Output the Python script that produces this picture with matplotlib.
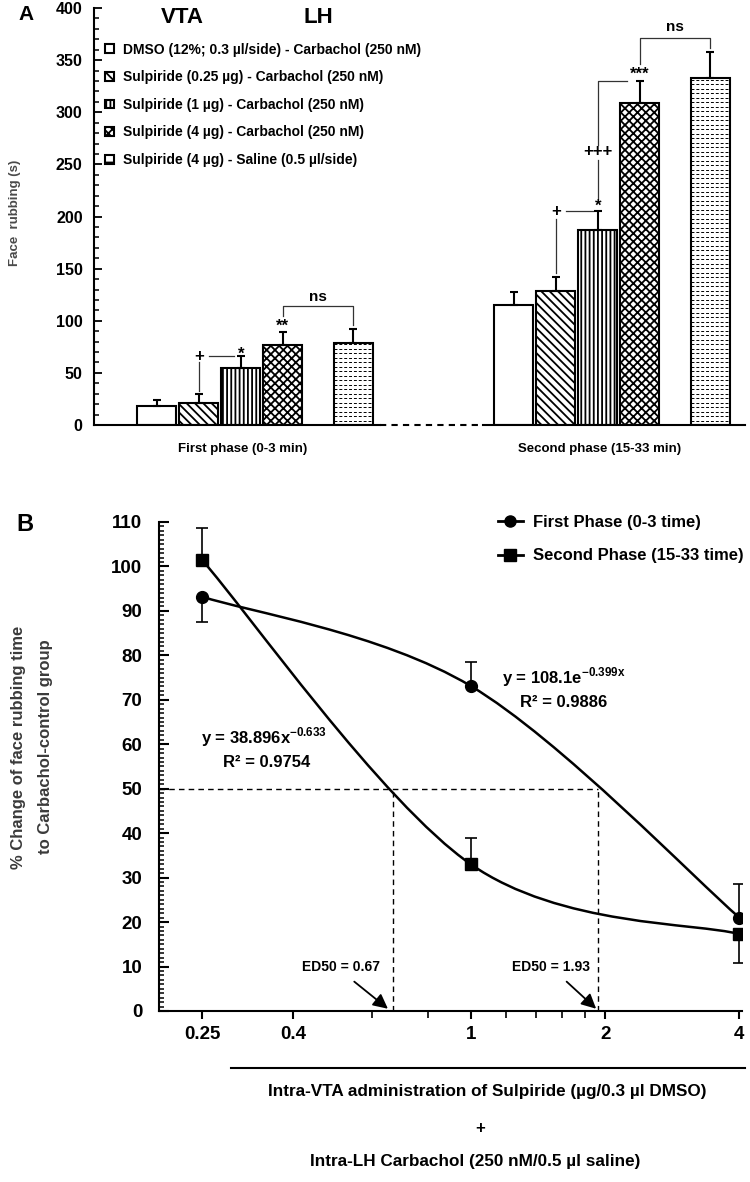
import numpy as np
import matplotlib
matplotlib.use("Agg")
import matplotlib.pyplot as plt
from matplotlib.path import Path
from matplotlib.patches import PathPatch, Patch
from matplotlib.lines import Line2D
from matplotlib.ticker import MultipleLocator, NullFormatter

plt.rcParams['font.family'] = ['Liberation Sans', 'DejaVu Sans']
plt.rcParams['font.weight'] = 'bold'
plt.rcParams['mathtext.fontset'] = 'custom'
plt.rcParams['mathtext.rm'] = 'Liberation Sans'
plt.rcParams['mathtext.bf'] = 'Liberation Sans:bold'
plt.rcParams['hatch.linewidth'] = 1.3

# ---------------- data, panel A ----------------
treatments = ['DMSO (12%; 0.3 µl/side) - Carbachol (250 nM)',
              'Sulpiride (0.25 µg) - Carbachol (250 nM)',
              'Sulpiride (1 µg) - Carbachol (250 nM)',
              'Sulpiride (4 µg) - Carbachol (250 nM)',
              'Sulpiride (4 µg) - Saline (0.5 µl/side)']
phases = ['First phase (0-3 min)', 'Second phase (15-33 min)']
first_mean = [18, 21, 55, 77, 79]
first_sem = [6, 9, 11, 12, 13]
second_mean = [115, 129, 187, 309, 333]
second_sem = [13, 13, 18, 21, 25]

# ---------------- data, panel B ----------------
doses = [0.25, 1, 4]
dose_labels = ['0.25', '0.4', '1', '2', '4']
dose_ticks = [0.25, 0.4, 1, 2, 4]
first_pct = [93.2, 73.1, 21.0]
first_lo = [5.8, 0, 0]
first_hi = [0, 5.5, 7.6]
second_pct = [101.4, 33.0, 17.3]
second_lo = [0, 0, 6.6]
second_hi = [7.2, 6.0, 0]
ed50_first = 1.93
ed50_second = 0.67

fig = plt.figure(figsize=(7.5, 11.82), dpi=100)

# =============== PANEL A ===============
axA = fig.add_axes([0.125, 0.6404, 0.868, 0.3528])
slot = np.array([0, 1, 2, 3, 4.68])   # bar slots inside one phase group
group_x = [0, 8.5]
hatches = ['', '\\\\\\\\', '||||', 'xxxx', '']
bars = []
for i in range(5):
    xs = [g + slot[i] for g in group_x]
    b = axA.bar(xs, [first_mean[i], second_mean[i]], width=0.93, color='white',
                edgecolor='black', linewidth=1.5, hatch=hatches[i],
                yerr=[[0, 0], [first_sem[i], second_sem[i]]], capsize=3,
                error_kw=dict(elinewidth=1.5, capthick=1.5, ecolor='black'), zorder=2)
    bars.append(b)

# dashed horizontal fill of the saline bars
for rect in bars[4]:
    ys = np.arange(4.3, rect.get_height(), 4.3)
    lc = axA.hlines(ys, rect.get_x(), rect.get_x() + rect.get_width(), colors='black',
                    linestyles=(0, (3, 2)), linewidth=0.7, zorder=2.5)
    lc.set_clip_path(rect)

axA.set_xlim(-1.5, 14.0)
axA.set_ylim(0, 400)
# baseline: solid - dashed - solid
axA.plot([-1.5, 5.31], [0, 0], color='black', lw=1.5, clip_on=False, zorder=3)
axA.plot([5.31, 7.76], [0, 0], color='black', lw=1.5, ls=(0, (3, 2.5)), clip_on=False, zorder=3)
axA.plot([7.76, 14.0], [0, 0], color='black', lw=1.5, clip_on=False, zorder=3)

for s in ['top', 'right', 'bottom']:
    axA.spines[s].set_visible(False)
axA.spines['left'].set_linewidth(1.5)
axA.set_yticks(range(0, 401, 50))
axA.yaxis.set_minor_locator(MultipleLocator(10))
axA.tick_params(axis='y', which='major', direction='in', length=6, width=1.3, labelsize=11.5, pad=8)
axA.tick_params(axis='y', which='minor', direction='in', length=3.5, width=1.1)
axA.set_xticks([2.05, 10.55], phases)
axA.tick_params(axis='x', length=0, labelsize=9.5, pad=13)
axA.set_ylabel('Face  rubbing (s)', fontsize=9.5, fontweight='bold', color='#4a4a4a', va='center')
axA.yaxis.set_label_coords(-0.121, 0.508)

# significance marks, first phase
ann = dict(color='#333333', lw=0.9)
axA.plot([1, 1], [33, 60], **ann)
axA.text(1, 66, '+', ha='center', va='center', fontsize=12)
axA.plot([1.24, 1.85], [66, 66], **ann)
axA.text(2, 68, '*', ha='center', va='center', fontsize=12)
axA.text(3, 95, '**', ha='center', va='center', fontsize=12)
axA.plot([3, 3, 4.68, 4.68], [105, 114, 114, 96], **ann)
axA.text(3.84, 123, 'ns', ha='center', va='center', fontsize=11)
# significance marks, second phase
axA.plot([9.5, 9.5], [146, 198], **ann)
axA.text(9.5, 205, '+', ha='center', va='center', fontsize=12)
axA.plot([9.74, 10.38], [205, 205], **ann)
axA.text(10.5, 210, '*', ha='center', va='center', fontsize=12)
axA.plot([10.5, 10.5], [218, 254], **ann)
axA.text(10.5, 262, '+++', ha='center', va='center', fontsize=12)
axA.plot([10.5, 10.5, 11.2], [269, 330, 330], **ann)
axA.text(11.5, 336, '***', ha='center', va='center', fontsize=12)
axA.plot([11.5, 11.5, 13.18, 13.18], [346, 371, 371, 362], **ann)
axA.text(12.34, 382, 'ns', ha='center', va='center', fontsize=11)

handles = [bars[0], bars[1], bars[2], bars[3],
           Patch(facecolor='white', edgecolor='black', hatch='--', linewidth=1.5)]
axA.legend(handles, treatments, loc='upper left', bbox_to_anchor=(0.018, 0.917),
           frameon=False, fontsize=10, handlelength=0.6, handleheight=0.6,
           handletextpad=0.65, labelspacing=0.98, borderpad=0, borderaxespad=0)
fig.text(0.243, 0.9855, 'VTA', ha='center', va='center', fontsize=16)
fig.text(0.425, 0.9855, 'LH', ha='center', va='center', fontsize=16)
fig.text(0.035, 0.988, 'A', ha='center', va='center', fontsize=15)

# =============== PANEL B ===============
axB = fig.add_axes([0.212, 0.1447, 0.777, 0.4137])
axB.set_xscale('log')
axB.set_xlim(0.2, 4.05)
axB.set_ylim(0, 110)


def smooth_curve(xs, ys):
    # Catmull-Rom style bezier through the points (log-x space), like a spreadsheet "smoothed line"
    p = np.column_stack([np.log10(xs), ys])
    n = len(p)
    verts = [p[0]]
    codes = [Path.MOVETO]
    for i in range(n - 1):
        prev = p[max(i - 1, 0)]
        nxt = p[min(i + 2, n - 1)]
        c1 = p[i] + (p[i + 1] - prev) / 6
        c2 = p[i + 1] - (nxt - p[i]) / 6
        verts += [c1, c2, p[i + 1]]
        codes += [Path.CURVE4] * 3
    verts = np.array(verts)
    verts[:, 0] = 10 ** verts[:, 0]
    return Path(verts, codes)


axB.add_patch(PathPatch(smooth_curve(doses, first_pct), facecolor='none', edgecolor='black', lw=1.8, zorder=3))
axB.add_patch(PathPatch(smooth_curve(doses, second_pct), facecolor='none', edgecolor='black', lw=1.8, zorder=3))
axB.errorbar(doses, first_pct, yerr=[first_lo, first_hi], fmt='o', color='black', ms=8.5,
             capsize=4, elinewidth=1.2, capthick=1.2, zorder=4)
axB.errorbar(doses, second_pct, yerr=[second_lo, second_hi], fmt='s', color='black', ms=8,
             capsize=4, elinewidth=1.2, capthick=1.2, zorder=4)

# ED50 guides
dash = (0, (4, 3))
axB.plot([axB.get_xlim()[0], ed50_first], [50, 50], color='black', lw=1.0, ls=dash)
axB.plot([ed50_second, ed50_second], [0, 50], color='black', lw=1.0, ls=dash)
axB.plot([ed50_first, ed50_first], [0, 50], color='black', lw=1.0, ls=dash)
axB.text(0.512, 9.9, 'ED50 = %.2f' % ed50_second, ha='center', va='center', fontsize=10)
axB.text(1.515, 9.9, 'ED50 = %.2f' % ed50_first, ha='center', va='center', fontsize=10)
arrow = dict(arrowstyle='-|>', color='black', lw=1.3, mutation_scale=22, shrinkA=0, shrinkB=0)
axB.annotate('', xy=(0.652, 0.5), xytext=(0.548, 6.6), arrowprops=arrow)
axB.annotate('', xy=(1.91, 0.5), xytext=(1.64, 6.6), arrowprops=arrow)

# fit equations
axB.text(1.172, 75.1, r'y = 108.1e$^{\mathrm{-0.399x}}$', ha='left', va='center', fontsize=12)
axB.text(1.616, 69.3, 'R² = 0.9886', ha='center', va='center', fontsize=12)
axB.text(0.344, 61.6, r'y = 38.896x$^{\mathrm{-0.633}}$', ha='center', va='center', fontsize=12)
axB.text(0.348, 56.0, 'R² = 0.9754', ha='center', va='center', fontsize=12)

for s in ['top', 'right']:
    axB.spines[s].set_visible(False)
axB.spines['left'].set_linewidth(1.5)
axB.spines['bottom'].set_linewidth(1.5)
axB.set_xticks(dose_ticks, dose_labels)
axB.set_xticks([0.6, 0.8, 1.2, 1.4, 1.6, 1.8], minor=True)
axB.xaxis.set_minor_formatter(NullFormatter())
axB.yaxis.set_major_locator(MultipleLocator(10))
axB.yaxis.set_minor_locator(MultipleLocator(1))
axB.tick_params(axis='x', which='major', direction='out', length=6, width=1.5, labelsize=13.5, pad=5)
axB.tick_params(axis='x', which='minor', direction='out', length=5, width=1.2)
axB.tick_params(axis='y', which='major', direction='in', length=7, width=1.5, labelsize=13.5, pad=12)
axB.tick_params(axis='y', which='minor', direction='in', length=3.5, width=1.1)
axB.set_ylabel('% Change of face rubbing time\nto Carbachol-control group', fontsize=12,
               fontweight='bold', color='#3a3a3a', linespacing=1.95, va='center')
axB.yaxis.set_label_coords(-0.218, 0.54)

legB = [Line2D([0], [0], color='black', lw=2, marker='o', ms=8),
        Line2D([0], [0], color='black', lw=2, marker='s', ms=8)]
axB.legend(legB, ['First Phase (0-3 time)', 'Second Phase (15-33 time)'], loc='upper left',
           bbox_to_anchor=(0.581, 1.014), frameon=False, fontsize=12, handlelength=1.5,
           handletextpad=0.6, labelspacing=1.1, borderpad=0, borderaxespad=0)

# x-axis caption block
axB.plot([0.1235, 1.005], [-0.1166, -0.1166], transform=axB.transAxes, clip_on=False, color='black', lw=1.5)
axB.text(0.5626, -0.1656, 'Intra-VTA administration of Sulpiride (µg/0.3 µl DMSO)', transform=axB.transAxes,
         ha='center', va='center', fontsize=12.3)
axB.text(0.5506, -0.2413, '+', transform=axB.transAxes, ha='center', va='center', fontsize=12)
axB.text(0.542, -0.3088, 'Intra-LH Carbachol (250 nM/0.5 µl saline)', transform=axB.transAxes,
         ha='center', va='center', fontsize=12.3)
fig.text(0.033, 1 - 525 / 1182, 'B', ha='center', va='center', fontsize=17)

fig.savefig('out.png', dpi=100)
